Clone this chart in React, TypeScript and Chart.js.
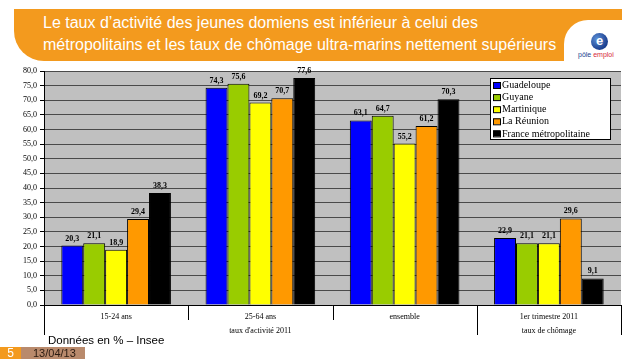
import React, { useEffect, useRef } from "react";
import { Chart, registerables } from "chart.js";

Chart.register(...registerables);

const categories = ["15-24 ans", "25-64 ans", "ensemble", "1er trimestre 2011"];
const groupLabels = ["taux d'activité 2011", "taux de chômage"];
const groupSpans = [3, 1];
const seriesNames = ["Guadeloupe", "Guyane", "Martinique", "La Réunion", "France métropolitaine"];
const guadeloupe = [20.3, 74.3, 63.1, 22.9];
const guyane = [21.1, 75.6, 64.7, 21.1];
const martinique = [18.9, 69.2, 55.2, 21.1];
const reunion = [29.4, 70.7, 61.2, 29.6];
const france = [38.3, 77.6, 70.3, 9.1];
const seriesColors = ["#0000FF", "#99CC00", "#FFFF00", "#FF9900", "#000000"];
const yMin = 0;
const yMax = 80;
const yStep = 5;

const titleLines = [
  "Le taux d’activité des jeunes domiens est inférieur à celui des",
  "métropolitains et les taux de chômage ultra-marins nettement supérieurs",
];
const footnote = "Données en % – Insee";
const pageNumber = "5";
const dateText = "13/04/13";

const SERIF = "'Times New Roman', 'Liberation Serif', serif";
const fmt = (v: number) => v.toFixed(1).replace(".", ",");

const bgPlugin = {
  id: "plotBg",
  beforeDraw(chart: any) {
    const { ctx, chartArea } = chart;
    ctx.save();
    ctx.fillStyle = "#C0C0C0";
    ctx.fillRect(chartArea.left, chartArea.top, chartArea.right - chartArea.left, chartArea.bottom - chartArea.top);
    ctx.restore();
  },
};

const valueLabelPlugin = {
  id: "valueLabels",
  afterDatasetsDraw(chart: any) {
    const { ctx } = chart;
    ctx.save();
    ctx.font = `bold 8px ${SERIF}`;
    ctx.fillStyle = "#000";
    ctx.textAlign = "center";
    ctx.textBaseline = "bottom";
    chart.data.datasets.forEach((ds: any, di: number) => {
      const meta = chart.getDatasetMeta(di);
      meta.data.forEach((bar: any, i: number) => {
        ctx.fillText(fmt(ds.data[i]), bar.x, bar.y - 3);
      });
    });
    ctx.restore();
  },
};

const xAxisPlugin = {
  id: "groupAxis",
  afterDraw(chart: any) {
    const { ctx, chartArea } = chart;
    const xs = chart.scales.x;
    const n = categories.length;
    const step = n > 1 ? xs.getPixelForValue(1) - xs.getPixelForValue(0) : chartArea.right - chartArea.left;
    const bounds: number[] = [];
    for (let i = 0; i <= n; i++) bounds.push(xs.getPixelForValue(0) - step / 2 + i * step);
    const base = chartArea.bottom;
    ctx.save();
    ctx.strokeStyle = "#000";
    ctx.lineWidth = 1;
    ctx.beginPath();
    ctx.moveTo(chartArea.left, base + 0.5);
    ctx.lineTo(chartArea.right, base + 0.5);
    ctx.stroke();
    const groupBounds = new Set<number>([0]);
    let acc = 0;
    groupSpans.forEach((s) => {
      acc += s;
      groupBounds.add(acc);
    });
    for (let i = 0; i <= n; i++) {
      const x = Math.round(bounds[i]) + 0.5;
      const len = groupBounds.has(i) ? 30 : 15;
      ctx.beginPath();
      ctx.moveTo(x, base);
      ctx.lineTo(x, base + len);
      ctx.stroke();
    }
    ctx.fillStyle = "#000";
    ctx.font = `8px ${SERIF}`;
    ctx.textAlign = "center";
    ctx.textBaseline = "middle";
    categories.forEach((c, i) => {
      ctx.fillText(c, xs.getPixelForValue(i), base + 12);
    });
    let start = 0;
    groupLabels.forEach((g, gi) => {
      const end = start + groupSpans[gi];
      ctx.fillText(g, (bounds[start] + bounds[end]) / 2, base + 26);
      start = end;
    });
    ctx.restore();
  },
};

const legendPlugin = {
  id: "insideLegend",
  afterDraw(chart: any) {
    const { ctx, chartArea } = chart;
    const w = 120;
    const h = 61;
    const x = chartArea.right - 11 - w;
    const y = chartArea.top + 7;
    ctx.save();
    ctx.fillStyle = "#fff";
    ctx.fillRect(x, y, w, h);
    ctx.strokeStyle = "#000";
    ctx.lineWidth = 1;
    ctx.strokeRect(x + 0.5, y + 0.5, w, h);
    ctx.font = `10px ${SERIF}`;
    ctx.textBaseline = "middle";
    ctx.textAlign = "left";
    seriesNames.forEach((name, i) => {
      const cy = y + 7 + i * 12.1;
      ctx.fillStyle = seriesColors[i];
      ctx.fillRect(x + 3, cy - 3, 7, 6);
      ctx.strokeStyle = "#000";
      ctx.strokeRect(x + 3.5, cy - 2.5, 7, 6);
      ctx.fillStyle = "#000";
      ctx.fillText(name, x + 12, cy + 0.5);
    });
    ctx.restore();
  },
};

function ChartCanvas() {
  const ref = useRef<HTMLCanvasElement>(null);
  useEffect(() => {
    if (!ref.current) return;
    const values = [guadeloupe, guyane, martinique, reunion, france];
    const chart = new Chart(ref.current, {
      type: "bar",
      data: {
        labels: categories,
        datasets: seriesNames.map((name, i) => ({
          label: name,
          data: values[i],
          backgroundColor: seriesColors[i],
          borderColor: "#000",
          borderWidth: 1,
          categoryPercentage: 0.76,
          barPercentage: 1.0,
        })),
      },
      options: {
        animation: false,
        responsive: false,
        maintainAspectRatio: false,
        devicePixelRatio: 1,
        layout: { padding: { top: 11, right: 17, bottom: 35, left: 0 } },
        plugins: { legend: { display: false }, tooltip: { enabled: false } },
        scales: {
          x: { display: false, offset: true },
          y: {
            min: yMin,
            max: yMax,
            afterFit: (scale: any) => {
              scale.width = 44;
            },
            ticks: {
              stepSize: yStep,
              color: "#000",
              font: { family: SERIF, size: 8 },
              padding: 3,
              callback: (v: any) => fmt(Number(v)),
            },
            grid: { color: "#4a4a4a", tickColor: "#000", tickLength: 4, lineWidth: 1 },
            border: { display: true, color: "#000", width: 1 },
          },
        },
      } as any,
      plugins: [bgPlugin, valueLabelPlugin, xAxisPlugin, legendPlugin],
    });
    return () => chart.destroy();
  }, []);
  return <canvas ref={ref} width={638} height={280} style={{ position: "absolute", left: 0, top: 60, width: 638, height: 280 }} />;
}

export default function App() {
  return (
    <div
      style={{
        position: "absolute",
        left: 0,
        top: 0,
        width: 638,
        height: 359,
        background: "#fff",
        overflow: "hidden",
        fontFamily: "'Liberation Sans', Arial, sans-serif",
      }}
    >
      <div
        style={{
          position: "absolute",
          left: 14,
          top: 9,
          width: 608,
          height: 52,
          background: "#F39A1E",
          borderBottomLeftRadius: 30,
        }}
      />
      <div
        style={{
          position: "absolute",
          left: 564,
          top: 20,
          width: 80,
          height: 45,
          background: "#fff",
          borderTopLeftRadius: 24,
        }}
      />
      <div
        style={{
          position: "absolute",
          left: 43,
          top: 12,
          color: "#fff",
          fontSize: 16,
          lineHeight: "22px",
          whiteSpace: "nowrap",
        }}
      >
        {titleLines.map((l, i) => (
          <div key={i}>{l}</div>
        ))}
      </div>
      <div style={{ position: "absolute", left: 591, top: 33, width: 18, height: 18 }}>
        <div
          style={{
            width: 17,
            height: 17,
            borderRadius: "50%",
            background: "radial-gradient(circle at 35% 35%, #5b8fd6, #1b3f8f 70%)",
            color: "#fff",
            fontSize: 13,
            fontWeight: "bold",
            lineHeight: "15px",
            textAlign: "center",
          }}
        >
          e
        </div>
      </div>
      <div
        style={{
          position: "absolute",
          left: 578,
          top: 51,
          fontSize: 7,
          lineHeight: "8px",
          whiteSpace: "nowrap",
        }}
      >
        <span style={{ color: "#1b3f8f" }}>pôle </span>
        <span style={{ color: "#d6283a" }}>emploi</span>
      </div>
      <ChartCanvas />
      <div
        style={{
          position: "absolute",
          left: 48,
          top: 333,
          fontSize: 11.5,
          lineHeight: "14px",
          color: "#000",
          whiteSpace: "nowrap",
        }}
      >
        {footnote}
      </div>
      <div
        style={{
          position: "absolute",
          left: 0,
          top: 347,
          width: 21,
          height: 12,
          background: "#F39A1E",
          color: "#fff",
          fontSize: 12,
          lineHeight: "12px",
          textAlign: "center",
        }}
      >
        {pageNumber}
      </div>
      <div
        style={{
          position: "absolute",
          left: 21,
          top: 347,
          width: 64,
          height: 12,
          background: "#B98A6C",
          color: "#2a1a10",
          fontSize: 11,
          lineHeight: "12px",
          paddingLeft: 12,
          boxSizing: "border-box",
          whiteSpace: "nowrap",
        }}
      >
        {dateText}
      </div>
    </div>
  );
}
